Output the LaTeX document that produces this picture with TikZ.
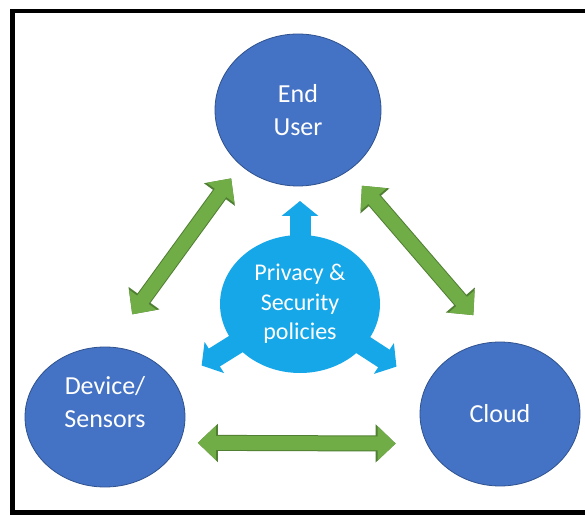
\documentclass[tikz,border=0pt]{standalone}
\usepackage{fontspec}
\setmainfont{Carlito}
\usepackage{tikz}
\usetikzlibrary{shapes.geometric, arrows.meta}
\definecolor{azul}{RGB}{68,114,196}
\definecolor{azuloscuro}{RGB}{47,82,143}
\definecolor{celeste}{RGB}{22,167,232}
\definecolor{verde}{RGB}{112,173,71}
\definecolor{verdeoscuro}{RGB}{80,126,50}

\begin{document}
\begin{tikzpicture}[
  x=1pt, y=1pt,
  actortext/.style={text=white, align=center, font=\fontsize{26}{33}\selectfont},
  actor/.style={ellipse, draw=azuloscuro, line width=0.8pt, fill=azul, actortext},
  policy/.style={ellipse, fill=celeste, minimum width=160pt, minimum height=138pt,
                 text=white, align=center, font=\fontsize{24}{29.5}\selectfont},
  spoke/.style={celeste, line width=21pt, shorten <=60pt,
                -{Triangle[length=15pt, width=36pt]}},
  link/.style={verde, line width=14pt, >={Triangle[length=18pt, width=33pt]}, <->,
               preaction={draw=verdeoscuro, line width=16pt,
                          >={Triangle[length=20pt, width=37pt]}, <->}}
]
  \useasboundingbox (0,0) rectangle (585,514);
  \fill[white] (0,0) rectangle (585,514);

  % frame, open on the right
  \draw[line width=4.5pt] (600,503) -- (12.5,503) -- (12.5,1.5) -- (600,1.5);

  \node[actor, minimum width=166pt, minimum height=152pt] (eu) at (298,404) {End\\User};
  \node[actor, minimum width=160pt, minimum height=140pt,
        label={[actortext, yshift=15pt]center:Device/\\Sensors}] (dev) at (105,97) {};
  \node[actor, minimum width=160pt, minimum height=144pt] (cloud) at (500,100) {Cloud};

  \node[policy] (priv) at (300,210) {Privacy \&\\Security\\policies};
  \draw[spoke] (priv.center) -- ++(90:103);
  \draw[spoke] (priv.center) -- ++(212:116);
  \draw[spoke] (priv.center) -- ++(327:115);

  \draw[link, shorten <=16pt, shorten >=40pt] (eu.224) -- (dev.87);
  \draw[link, shorten <=20pt, shorten >=35pt] (eu.310) -- (cloud.93);
  \draw[link, shorten <=18pt, shorten >=31pt] (dev.341) -- (cloud.202);
\end{tikzpicture}
\end{document}
